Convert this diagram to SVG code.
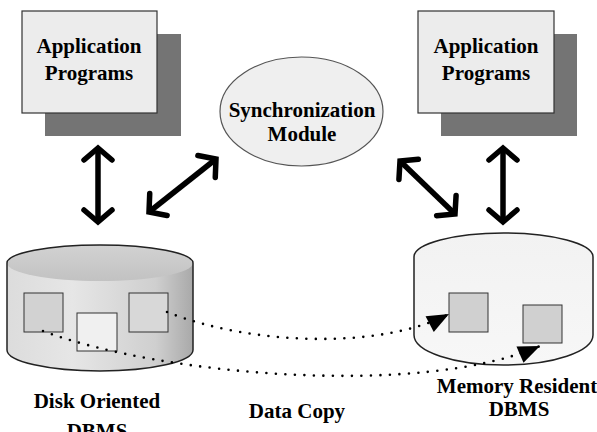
<svg xmlns="http://www.w3.org/2000/svg" width="597" height="432" viewBox="0 0 597 432">
  <style>
    .lbl { font-family: "Liberation Serif", "Times New Roman", serif; font-weight: bold; font-size: 21px; fill: #000; text-anchor: middle; }
    .shadow { fill: #747474; }
    .box { fill: #ececec; stroke: #333; stroke-width: 1.2; }
    .sq { stroke: #333; stroke-width: 1; }
    .link { fill: none; stroke: #000; stroke-width: 5.5; }
    .dots { fill: none; stroke: #000; stroke-width: 2.6; stroke-linecap: round; stroke-dasharray: 0 9.5; }
  </style>
  <defs>
    <marker id="chev" markerUnits="userSpaceOnUse" markerWidth="40" markerHeight="40" viewBox="-20 -20 40 40" refX="0" refY="0" orient="auto-start-reverse" overflow="visible">
      <path d="M-12,-14 L0,0 L-12,14" fill="none" stroke="#000" stroke-width="5.5" stroke-linecap="round" stroke-linejoin="miter"/>
    </marker>
    <marker id="tri" markerUnits="userSpaceOnUse" markerWidth="30" markerHeight="30" viewBox="-20 -10 22 20" refX="0" refY="0" orient="auto" overflow="visible">
      <path d="M0,0 L-16,-6.5 L-16,6.5 Z" fill="#000"/>
    </marker>
    <linearGradient id="diskSide" x1="0" y1="0" x2="1" y2="0">
      <stop offset="0" stop-color="#dcdcdc"/>
      <stop offset="0.35" stop-color="#e6e6e6"/>
      <stop offset="0.8" stop-color="#cfcfcf"/>
      <stop offset="1" stop-color="#a9a9a9"/>
    </linearGradient>
    <linearGradient id="diskTop" x1="0" y1="0" x2="0" y2="1">
      <stop offset="0" stop-color="#d2d2d2"/>
      <stop offset="1" stop-color="#c2c2c2"/>
    </linearGradient>
    <linearGradient id="memSide" x1="0" y1="0" x2="0" y2="1">
      <stop offset="0" stop-color="#f2f2f2"/>
      <stop offset="1" stop-color="#f7f7f7"/>
    </linearGradient>
  </defs>

  <!-- application programs, left -->
  <g id="app-left">
    <rect class="shadow" x="45" y="34" width="136" height="102"/>
    <rect class="box" x="22" y="11" width="135" height="102"/>
    <text class="lbl" x="89" y="53">Application</text>
    <text class="lbl" x="89" y="80">Programs</text>
  </g>

  <!-- application programs, right -->
  <g id="app-right">
    <rect class="shadow" x="441" y="34" width="136" height="102"/>
    <rect class="box" x="418" y="11" width="136" height="102"/>
    <text class="lbl" x="486" y="53">Application</text>
    <text class="lbl" x="486" y="80">Programs</text>
  </g>

  <!-- synchronization module -->
  <g id="sync">
    <ellipse cx="301.5" cy="111.5" rx="81.5" ry="54.5" fill="#efefef" stroke="#555" stroke-width="1.2"/>
    <text class="lbl" x="302" y="117">Synchronization</text>
    <text class="lbl" x="302" y="141">Module</text>
  </g>

  <!-- disk oriented DBMS -->
  <g id="disk-dbms">
    <path d="M7,263 L7,350 A93,21 0 0 0 193,350 L193,263 Z" fill="url(#diskSide)"/>
    <ellipse cx="100" cy="263" rx="93" ry="18" fill="url(#diskTop)"/>
    <path d="M7,263 L7,350 A93,21 0 0 0 193,350 L193,263 A93,18 0 0 0 7,263 Z" fill="none" stroke="#222" stroke-width="1.5"/>
    <rect class="sq" x="24" y="293" width="39" height="39" fill="#d2d2d2"/>
    <rect class="sq" x="77" y="313" width="40" height="38" fill="#f0f0f0"/>
    <rect class="sq" x="129" y="293" width="39" height="39" fill="#d8d8d8"/>
    <text class="lbl" x="97" y="408">Disk Oriented</text>
    <text class="lbl" x="97" y="438">DBMS</text>
  </g>

  <!-- memory resident DBMS -->
  <g id="mem-dbms">
    <path d="M414,257 L414,335 A89.5,30 0 0 0 593,335 L593,257 A89.5,24 0 0 0 414,257 Z" fill="url(#memSide)" stroke="#222" stroke-width="1.5"/>
    <rect class="sq" x="449" y="293" width="39" height="39" fill="#d0d0d0"/>
    <rect class="sq" x="523" y="305" width="39" height="38" fill="#d0d0d0"/>
    <text class="lbl" x="517" y="393">Memory Resident</text>
    <text class="lbl" x="519" y="416">DBMS</text>
  </g>

  <text class="lbl" x="297" y="418">Data Copy</text>

  <!-- connectors -->
  <g id="connectors">
    <line class="link" x1="98" y1="148" x2="98" y2="222" marker-start="url(#chev)" marker-end="url(#chev)"/>
    <line class="link" x1="503" y1="148" x2="503" y2="222" marker-start="url(#chev)" marker-end="url(#chev)"/>
    <line class="link" x1="149" y1="212" x2="216" y2="159" marker-start="url(#chev)" marker-end="url(#chev)"/>
    <line class="link" x1="400" y1="161" x2="455" y2="214" marker-start="url(#chev)" marker-end="url(#chev)"/>
    <path class="dots" d="M167,312 C250,345 380,350 449,314" marker-end="url(#tri)"/>
    <path class="dots" d="M43,331 C160,375 420,398 540,346" marker-end="url(#tri)"/>
  </g>
</svg>
